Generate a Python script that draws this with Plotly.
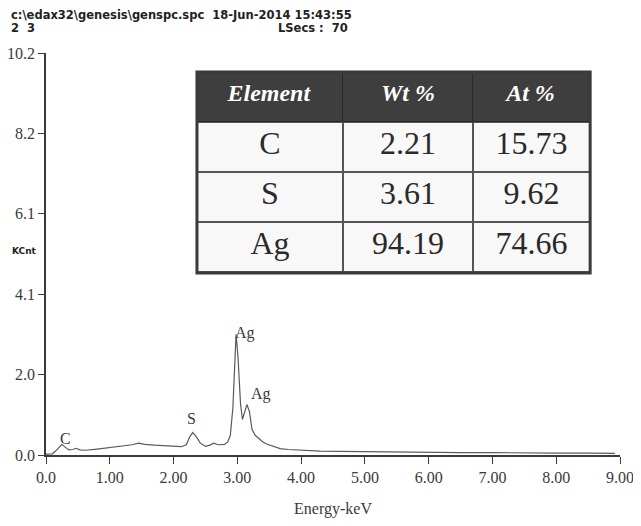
import plotly.graph_objects as go

# EDS spectrum (energy in keV, counts in KCnt)
energy = [0.0, 0.1, 0.15, 0.2, 0.25, 0.3, 0.36, 0.42, 0.47, 0.53, 0.62, 0.8, 1.0, 1.2,
          1.35, 1.45, 1.55, 1.7, 1.85, 2.0, 2.12, 2.2, 2.25, 2.3, 2.35, 2.42, 2.5,
          2.57, 2.63, 2.7, 2.8, 2.85, 2.89, 2.93, 2.96, 2.98, 3.01, 3.05, 3.08, 3.12,
          3.15, 3.19, 3.23, 3.28, 3.33, 3.4, 3.46, 3.55, 3.67, 3.8, 4.0, 4.3, 4.6, 5.0,
          5.5, 6.0, 6.5, 7.0, 7.5, 8.0, 8.5, 8.92]
kcnt = [0.02, 0.03, 0.1, 0.18, 0.27, 0.2, 0.13, 0.14, 0.17, 0.13, 0.12, 0.15, 0.19, 0.22,
        0.26, 0.3, 0.27, 0.25, 0.23, 0.21, 0.21, 0.26, 0.45, 0.57, 0.48, 0.3, 0.22,
        0.25, 0.3, 0.26, 0.27, 0.33, 0.5, 1.2, 2.4, 3.06, 2.5, 1.3, 0.9, 1.1,
        1.28, 1.1, 0.65, 0.5, 0.43, 0.33, 0.28, 0.22, 0.16, 0.14, 0.12, 0.1, 0.09, 0.08,
        0.07, 0.07, 0.06, 0.06, 0.05, 0.05, 0.05, 0.04]

# peak labels
peak_names = ["C", "S", "Ag", "Ag"]
peak_x = [0.3, 2.28, 3.12, 3.37]
peak_y = [0.42, 0.93, 3.1, 1.55]

# axis ticks
x_ticks = [0, 1, 2, 3, 4, 5, 6, 7, 8, 9]
x_ticktext = ["0.0", "1.00", "2.00", "3.00", "4.00", "5.00", "6.00", "7.00", "8.00", "9.00"]
y_ticks = [0, 2.04, 4.08, 6.12, 8.16, 10.2]
y_ticktext = ["0.0", "2.0", "4.1", "6.1", "8.2", "10.2"]

# quantification table
table_cols = ["<i><b>Element</b></i>", "<i><b>Wt %</b></i>", "<i><b>At %</b></i>"]
elements = ["C", "S", "Ag"]
wt_pct = ["2.21", "3.61", "94.19"]
at_pct = ["15.73", "9.62", "74.66"]

serif = "Liberation Serif"
sans = "DejaVu Sans"
ink = "#3a3a3a"

fig = go.Figure()

fig.add_trace(go.Scatter(
    x=energy, y=kcnt, mode="lines",
    line=dict(color="#5a5a5a", width=1.2),
    showlegend=False, hoverinfo="skip"
))

tbl_x = [0.263, 0.948]
tbl_y = [0.453, 0.953]
fig.add_trace(go.Table(
    domain=dict(x=tbl_x, y=tbl_y),
    columnwidth=[146, 130, 117],
    header=dict(
        values=table_cols,
        fill_color="#3e3e3e",
        line=dict(color="#2a2a2a", width=1),
        font=dict(family=serif, size=24, color="white"),
        align="center", height=50
    ),
    cells=dict(
        values=[elements, wt_pct, at_pct],
        fill_color="#f8f8f8",
        line=dict(color="#555555", width=1.5),
        font=dict(family=serif, size=32, color="#2a2a2a"),
        align="center", height=50
    )
))

fig.add_shape(type="rect", xref="paper", yref="paper",
              x0=tbl_x[0], x1=tbl_x[1], y0=tbl_y[0], y1=tbl_y[1],
              line=dict(color="#3a3a3a", width=3))

for name, px, py in zip(peak_names, peak_x, peak_y):
    fig.add_annotation(x=px, y=py, text=name, showarrow=False,
                       font=dict(family=serif, size=16, color=ink))

# header text of the instrument printout
hdr_font = dict(family=sans, size=11.5, color="#222")
fig.add_annotation(xref="paper", yref="paper", x=-0.065, y=1.095, xanchor="left",
                   yanchor="middle",
                   text="<b>c:\\edax32\\genesis\\genspc.spc  18-Jun-2014 15:43:55</b>",
                   showarrow=False, font=hdr_font)
fig.add_annotation(xref="paper", yref="paper", x=-0.065, y=1.063, xanchor="left",
                   yanchor="middle", text="<b>2  3</b>", showarrow=False, font=hdr_font)
fig.add_annotation(xref="paper", yref="paper", x=0.53, y=1.063, xanchor="right",
                   yanchor="middle", text="<b>LSecs :  70</b>", showarrow=False,
                   font=hdr_font)
fig.add_annotation(xref="paper", yref="paper", x=-0.037, y=0.507, xanchor="center",
                   text="<b>KCnt</b>", showarrow=False,
                   font=dict(family=sans, size=9, color="#222"))

# the page body adds 8 px around the figure, margins account for it
fig.update_layout(
    width=641, height=526,
    margin=dict(l=38, r=29, t=45, b=79),
    paper_bgcolor="white", plot_bgcolor="white",
    xaxis=dict(
        range=[0, 9], tickvals=x_ticks, ticktext=x_ticktext, automargin=False,
        showgrid=False, zeroline=False, showline=True, linecolor=ink, linewidth=1.5,
        ticks="outside", ticklen=7, tickcolor=ink,
        tickfont=dict(family=serif, size=16, color=ink),
        title=dict(text="Energy-keV", font=dict(family=serif, size=16, color=ink), standoff=18)
    ),
    yaxis=dict(
        range=[0, 10.2], tickvals=y_ticks, ticktext=y_ticktext, automargin=False,
        showgrid=False, zeroline=False, showline=True, linecolor=ink, linewidth=1.5,
        ticks="outside", ticklen=6, tickcolor=ink,
        tickfont=dict(family=serif, size=16, color=ink)
    )
)

fig.write_html("out.html")
